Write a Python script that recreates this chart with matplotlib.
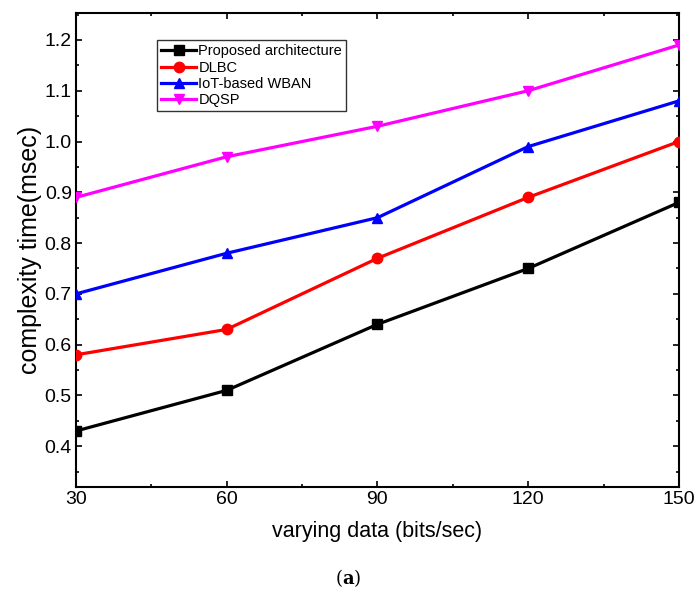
import numpy as np
import matplotlib.pyplot as plt
from matplotlib.ticker import MultipleLocator

plt.rcParams["font.family"] = ["Liberation Sans", "DejaVu Sans"]
plt.rcParams["mathtext.fontset"] = "dejavuserif"

x = [30, 60, 90, 120, 150]
proposed = [0.43, 0.51, 0.64, 0.75, 0.88]
dlbc = [0.58, 0.63, 0.77, 0.89, 1.00]
iot_wban = [0.70, 0.78, 0.85, 0.99, 1.08]
dqsp = [0.89, 0.97, 1.03, 1.10, 1.19]

series = [
    ("Proposed architecture", proposed, "black", "s"),
    ("DLBC", dlbc, "red", "o"),
    ("IoT-based WBAN", iot_wban, "blue", "^"),
    ("DQSP", dqsp, "magenta", "v"),
]

fig = plt.figure(figsize=(6.97, 5.93), dpi=100)
ax = fig.add_axes([0.109, 0.179, 0.865, 0.799])

for name, vals, col, mk in series:
    ax.plot(x, vals, color=col, marker=mk, markersize=7.5, linewidth=2.3,
            label=name, zorder=3)

ax.set_xlim(30, 150)
ax.set_ylim(0.32, 1.253)
ax.set_xticks(x)
ax.xaxis.set_minor_locator(MultipleLocator(15))
ax.yaxis.set_minor_locator(MultipleLocator(0.05))
yt = np.arange(0.4, 1.21, 0.1)
ax.set_yticks(yt)
ax.set_yticklabels([f"{v:.1f}" for v in yt])
ax.tick_params(which="both", direction="in", top=True, right=True, width=1.2)
ax.tick_params(which="major", length=4, labelsize=14, pad=3)
ax.tick_params(which="minor", length=2.5)
for s in ax.spines.values():
    s.set_linewidth(1.5)

ax.set_xlabel("varying data (bits/sec)", fontsize=15.5, labelpad=9)
ax.set_ylabel("complexity time(msec)", fontsize=18, labelpad=2)

leg = ax.legend(loc="upper left", bbox_to_anchor=(0.134, 0.943), borderaxespad=0,
                fontsize=10.5, frameon=True, fancybox=False, edgecolor="black",
                handlelength=2.4, borderpad=0.3, labelspacing=0.15,
                handletextpad=0.15)
leg.get_frame().set_linewidth(1.0)

fig.text(0.5, 0.025, r"($\mathbf{a}$)", ha="center", va="center", fontsize=13,
         family="DejaVu Serif")

fig.savefig("out.png", dpi=100)
